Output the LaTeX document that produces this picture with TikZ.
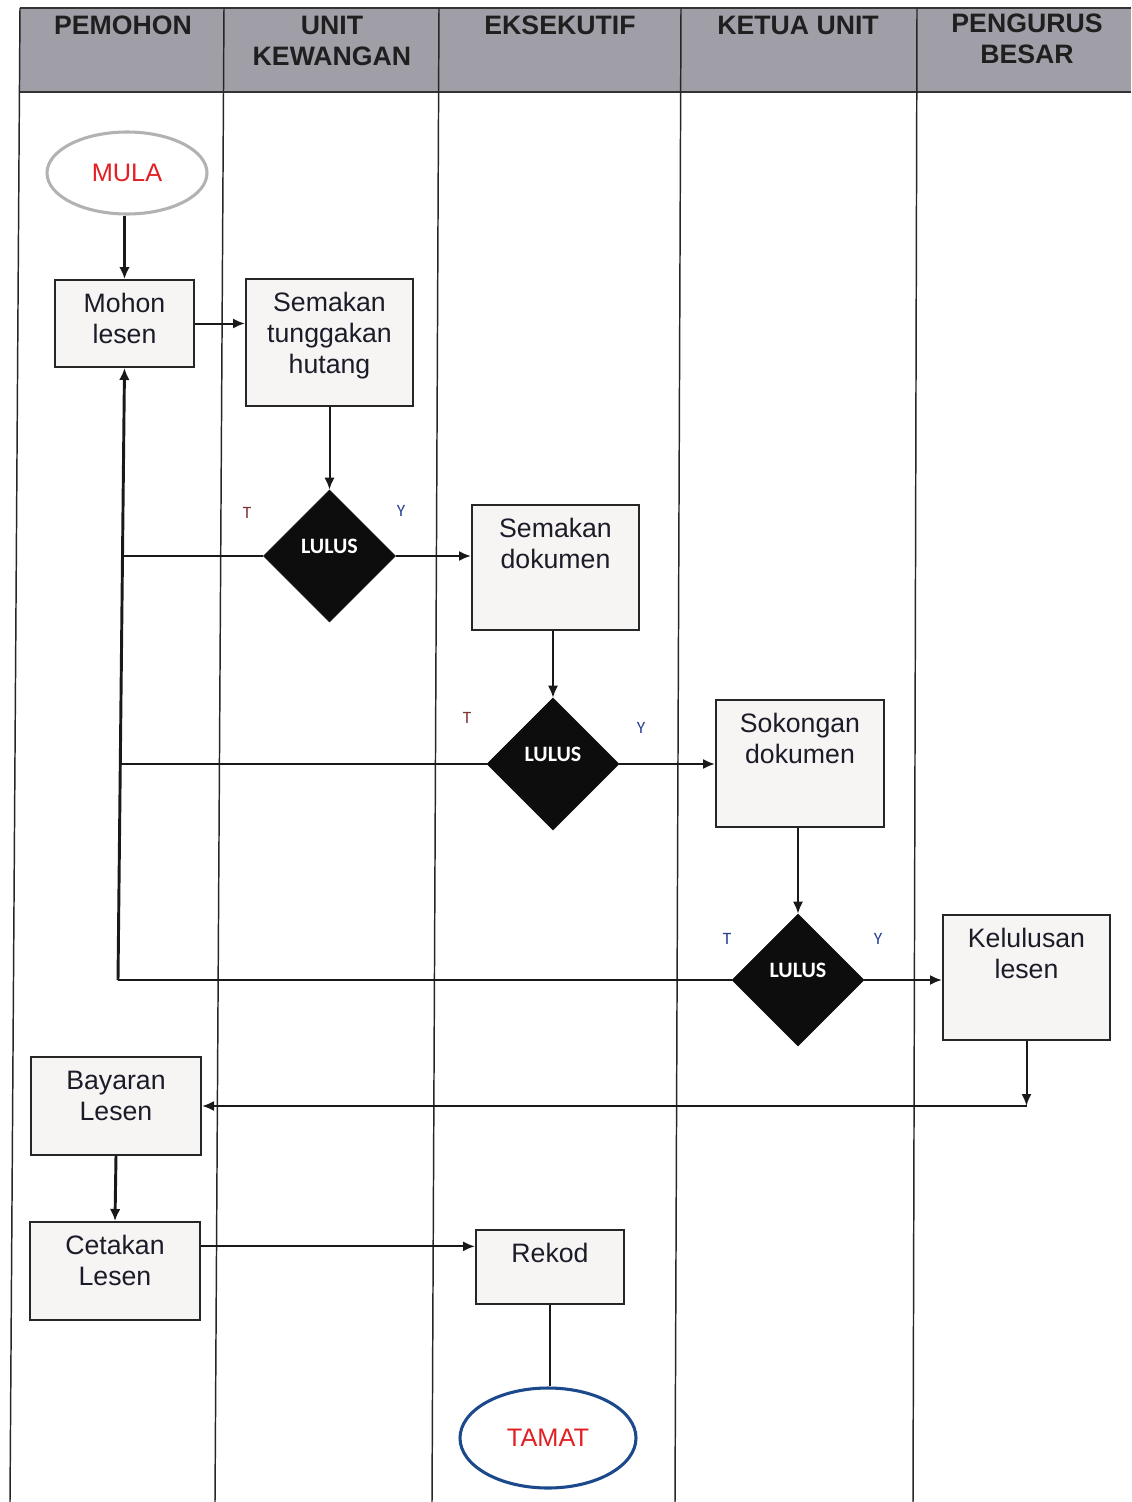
\documentclass[tikz,border=0pt]{standalone}
\usepackage{fontspec}
\setmainfont{Liberation Sans}
\newfontfamily\calfont{Carlito}
\usetikzlibrary{shapes.geometric,arrows.meta}

\definecolor{headgray}{RGB}{160,159,167}
\definecolor{boxfill}{RGB}{247,244,244}
\definecolor{boxtext}{RGB}{28,28,40}
\definecolor{mulaedge}{RGB}{178,178,178}
\definecolor{tamatedge}{RGB}{28,72,140}
\definecolor{endred}{RGB}{226,32,36}
\definecolor{tred}{RGB}{128,52,52}
\definecolor{yblue}{RGB}{40,62,150}

\newcommand{\boxtxt}[3]{\parbox[c][#2][t]{#1}{\centering\rule{0pt}{24pt}#3}}

\begin{document}
\begin{tikzpicture}[x=0.75pt,y=0.75pt,yscale=-1,xscale=1,
    lane/.style={line width=1.1pt, draw=black!85},
    head/.style={align=center, inner sep=0pt, text=black!88, font=\bfseries\fontsize{20}{23.3}\selectfont},
    box/.style={draw=black!85, line width=1.5pt, fill=boxfill, inner sep=0pt, text=boxtext, font=\fontsize{20}{23.3}\selectfont},
    terminal/.style={ellipse, fill=white, line width=2.3pt, inner sep=0pt, text=endred, font=\fontsize{19}{19}\selectfont},
    decide/.style={diamond, aspect=1, fill=black!95, draw=black!95, inner sep=0pt, minimum width=99pt, minimum height=99pt, text=white, font=\calfont\bfseries\fontsize{16.5}{16.5}\selectfont},
    tag/.style={inner sep=0pt, font=\calfont\fontsize{13}{13}\selectfont},
    arr/.style={line width=1.5pt, draw=black!90, -{Latex[length=9pt,width=7.5pt]}},
    thickarr/.style={line width=2.2pt, draw=black!90, -{Latex[length=9pt,width=8pt]}},
    link/.style={line width=1.5pt, draw=black!90}]
    \useasboundingbox (0,0) rectangle (1131,1502);

    %Header band
    \draw [fill=headgray, draw=none] (20,8) rectangle (1131,92);
    \draw [line width=1.5pt, draw=black!80] (20,8) -- (1131,8);
    \draw [line width=2.2pt, draw=black!80] (20,92) -- (1131,92);
    %Lane lines
    \draw [lane] (20,8) -- (10,1502);
    \draw [lane] (224,8) -- (215,1502);
    \draw [lane] (439,8) -- (432,1502);
    \draw [lane] (681,8) -- (675,1502);
    \draw [lane] (917,8) -- (913,1502);

    % Header Text
    \node [head] (hpemohon) at (123,25) {PEMOHON};
    \node [head] (hkewangan) at (332,40.5) {UNIT\\KEWANGAN};
    \node [head] (heksekutif) at (560,25) {EKSEKUTIF};
    \node [head] (hketua) at (798,25) {KETUA UNIT};
    \node [head] (hpengurus) at (1027,39) {PENGURUS\\BESAR};

    %Terminals
    \node [terminal, draw=mulaedge, minimum width=120pt, minimum height=61.5pt] (mula) at (127,173) {MULA};
    \node [terminal, draw=tamatedge, minimum width=132pt, minimum height=75pt] (tamat) at (548,1438) {TAMAT};

    %Process boxes
    \node [box] (mohon) at (124.5,323.5) {\boxtxt{104.25pt}{65.25pt}{Mohon\\lesen}};
    \node [box] (tunggakan) at (329.5,342.5) {\boxtxt{125.25pt}{95.25pt}{Semakan\\tunggakan\\hutang}};
    \node [box] (dokumen) at (555.5,567.5) {\boxtxt{125.25pt}{93.75pt}{Semakan\\dokumen}};
    \node [box] (sokongan) at (800,763.5) {\boxtxt{126pt}{95.25pt}{Sokongan\\dokumen}};
    \node [box] (kelulusan) at (1026.5,977.5) {\boxtxt{125.25pt}{93.75pt}{Kelulusan\\lesen}};
    \node [box] (bayaran) at (116,1106) {\boxtxt{127.5pt}{73.5pt}{Bayaran\\Lesen}};
    \node [box] (cetakan) at (115,1271) {\boxtxt{127.5pt}{73.5pt}{Cetakan\\Lesen}};
    \node [box] (rekod) at (550,1267) {\boxtxt{111pt}{55.5pt}{Rekod}};

    %Decisions
    \node [decide] (lulusa) at (329.5,556) {\raisebox{2.2pt}[0pt][0pt]{LULUS}};
    \node [decide] (lulusb) at (553,764) {\raisebox{2.2pt}[0pt][0pt]{LULUS}};
    \node [decide] (lulusc) at (798,980) {\raisebox{2.2pt}[0pt][0pt]{LULUS}};

    % T / Y Text
    \node [tag, text=tred] (ta) at (247,513) {T};
    \node [tag, text=yblue] (ya) at (401,511) {Y};
    \node [tag, text=tred] (tb) at (467,718) {T};
    \node [tag, text=yblue] (yb) at (641,728) {Y};
    \node [tag, text=yblue] (tc) at (727,939) {T};
    \node [tag, text=yblue] (yc) at (878,939) {Y};

    %Return points
    \coordinate (reta) at (121,556);
    \coordinate (retb) at (120,764);
    \coordinate (retc) at (118,980);
    \coordinate (bend) at (kelulusan.south |- bayaran.east);

    %Connectors
    \draw [thickarr] (mohon.north |- mula.south) -- (mohon.north);
    \draw [arr] (mohon.east) -- (mohon.east -| tunggakan.west);
    \draw [arr] (tunggakan.south) -- (lulusa.north);
    \draw [arr] (lulusa.east) -- (lulusa.east -| dokumen.west);
    \draw [arr] (dokumen.south -| lulusb.north) -- (lulusb.north);
    \draw [arr] (lulusb.east) -- (lulusb.east -| sokongan.west);
    \draw [arr] (sokongan.south -| lulusc.north) -- (lulusc.north);
    \draw [arr] (lulusc.east) -- (lulusc.east -| kelulusan.west);
    \draw [link] (lulusa.west) -- (reta);
    \draw [link] (lulusb.west) -- (retb);
    \draw [link] (lulusc.west) -- (retc);
    \draw [thickarr] (retc) -- (mohon.south);
    \draw [arr] (kelulusan.south) -- (bend);
    \draw [arr] (bend) -- (bayaran.east);
    \draw [thickarr] (bayaran.south) -- (cetakan.north);
    \draw [arr] (cetakan.16) -- (cetakan.16 -| rekod.west);
    \draw [link] (rekod.south) -- (rekod.south |- tamat.north);

\end{tikzpicture}
\end{document}
